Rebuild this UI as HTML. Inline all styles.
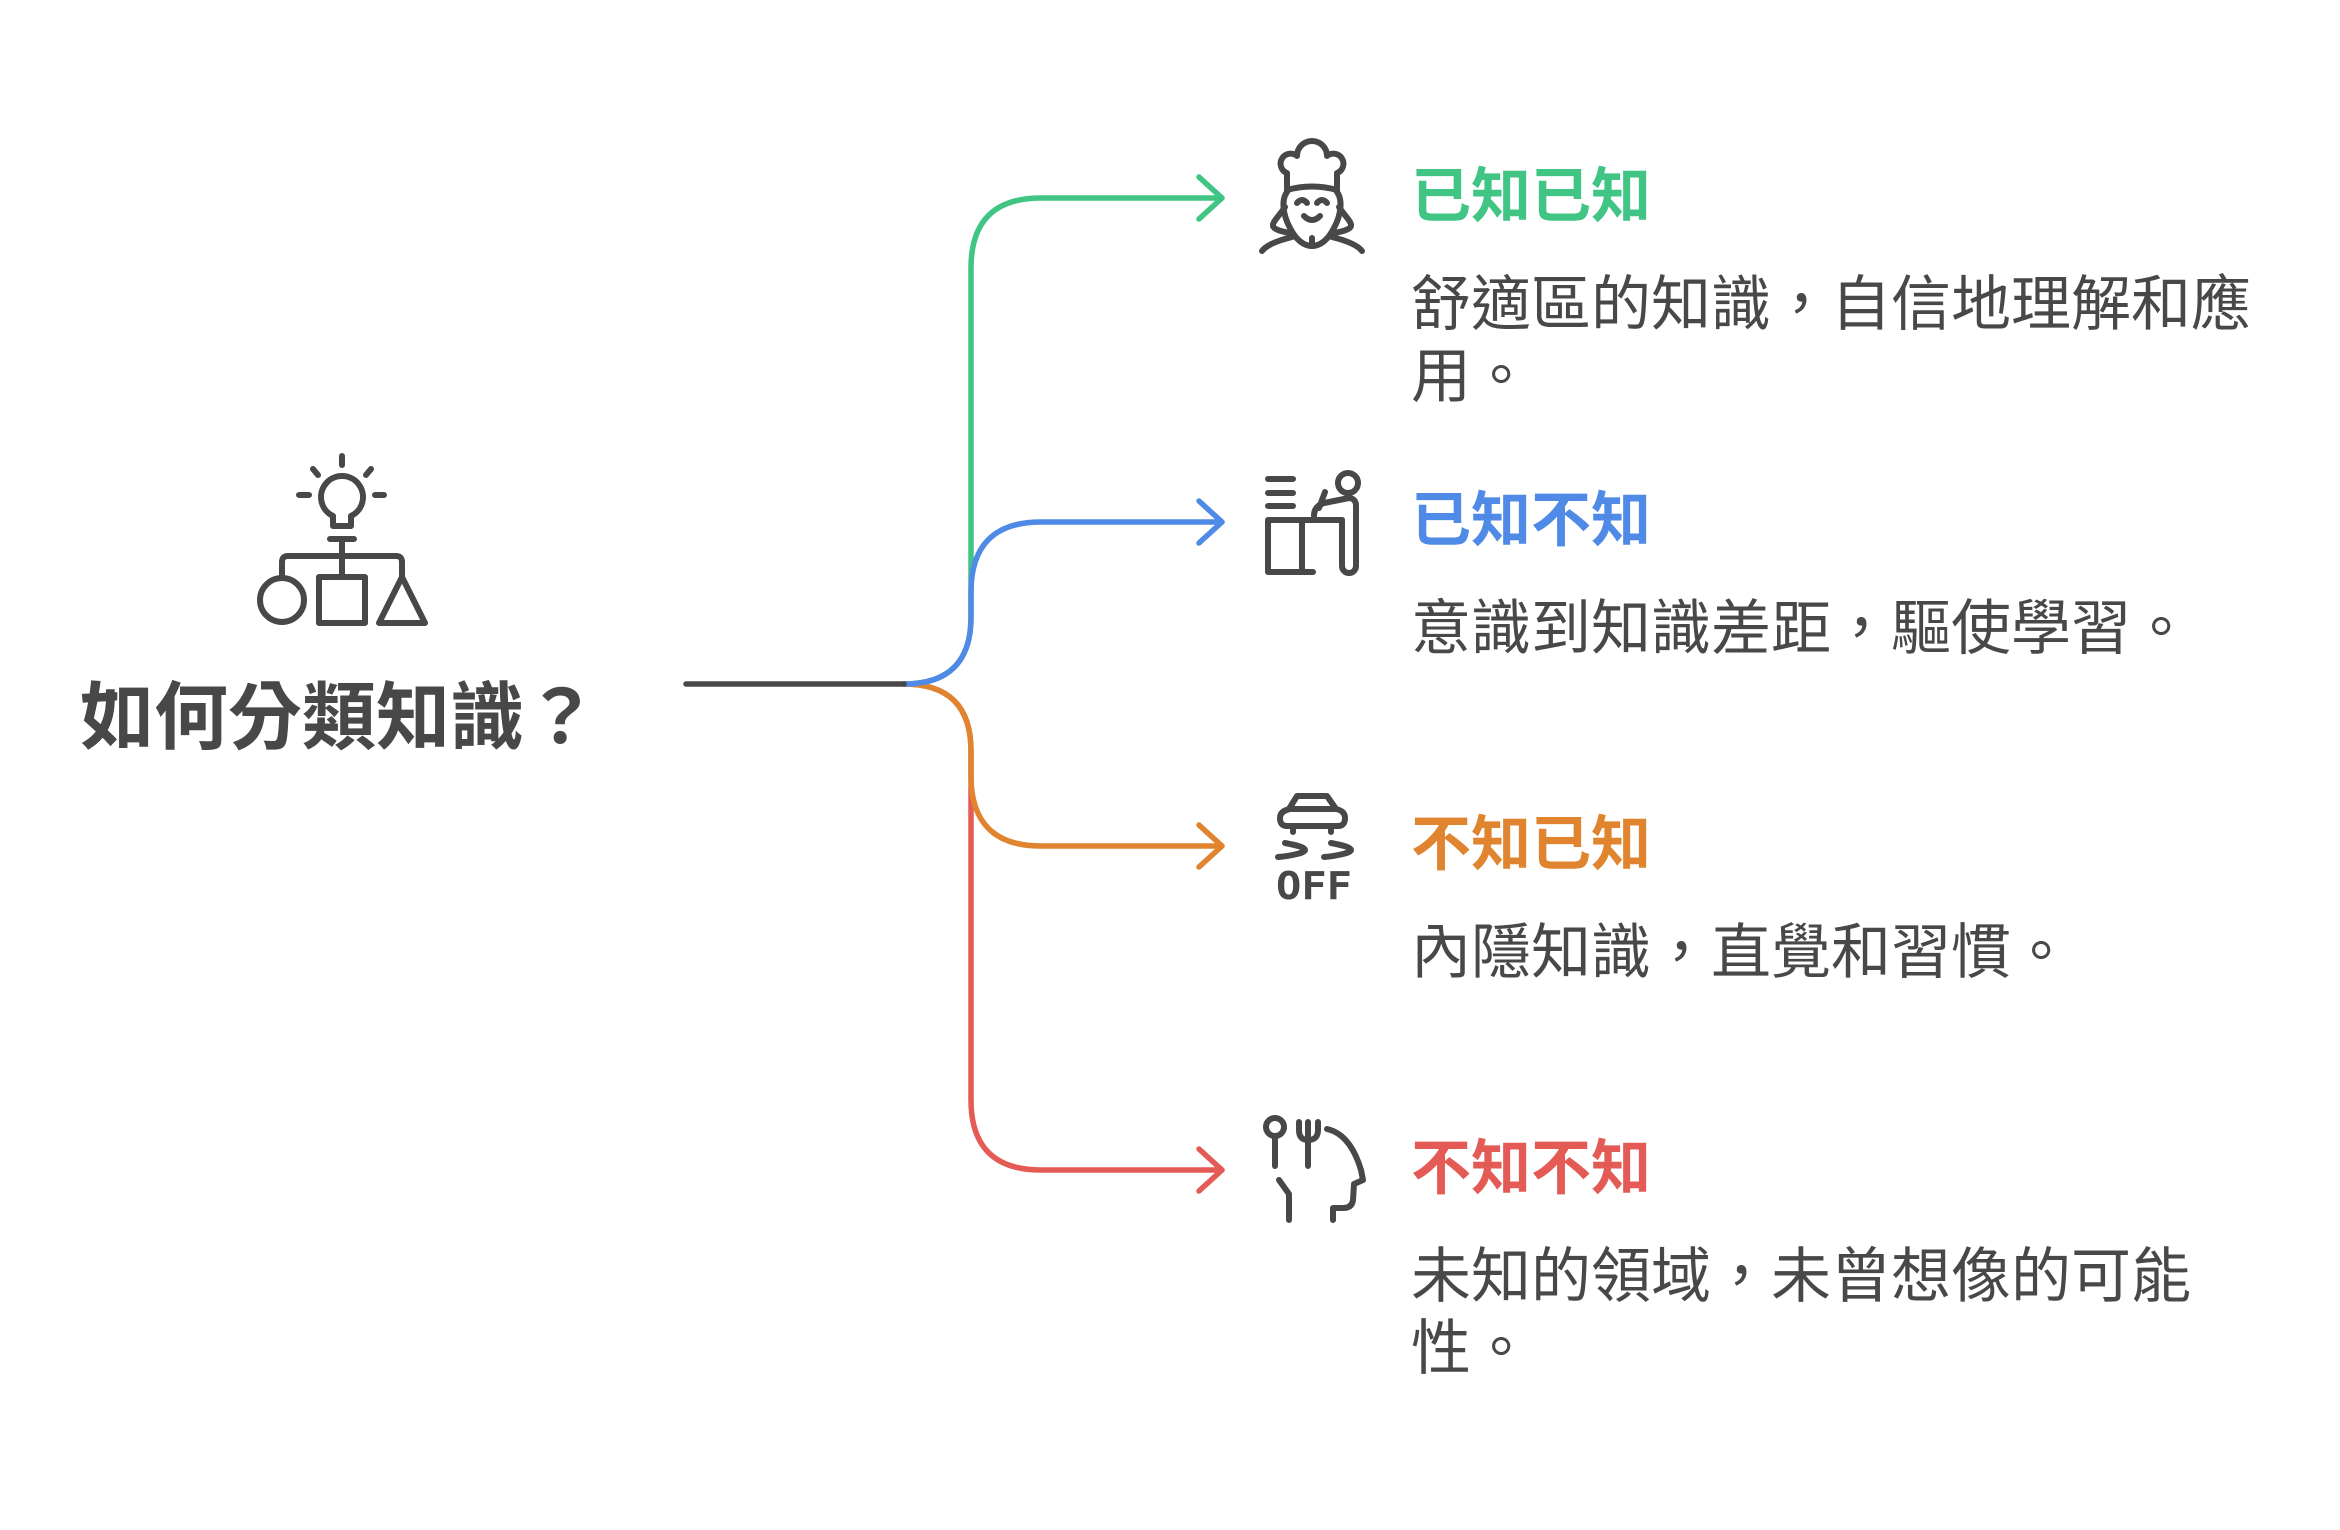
<!DOCTYPE html>
<html>
<head>
<meta charset="utf-8">
<style>
  html,body{margin:0;padding:0;background:#ffffff;}
  body{width:2340px;height:1530px;position:relative;overflow:hidden;}
  .t{position:absolute;white-space:nowrap;font-family:"Liberation Sans","Noto Sans CJK TC",sans-serif;}
  .title{left:39px;width:600px;top:673px;text-align:center;font-size:74px;line-height:90px;font-weight:700;color:#484848;}
  .h{left:1411px;font-size:60px;line-height:72px;font-weight:700;}
  .b{left:1411px;font-size:60px;line-height:72px;font-weight:400;color:#484848;}
  svg{position:absolute;left:0;top:0;}
</style>
</head>
<body>
<svg width="2340" height="1530" viewBox="0 0 2340 1530" xmlns="http://www.w3.org/2000/svg">
  <g fill="none" stroke-width="5.5" stroke-linecap="round" stroke-linejoin="round">
    <!-- connectors -->
    <path d="M904,684 Q971,684 971,617 L971,268 Q971,198 1041,198 L1222,198" stroke="#40C584"/>
    <polyline points="1199,177 1222,198 1199,219" stroke="#40C584"/>
    <path d="M904,684 Q971,684 971,751 L971,1100 Q971,1170 1041,1170 L1222,1170" stroke="#E45A55"/>
    <polyline points="1199,1149 1222,1170 1199,1191" stroke="#E45A55"/>
    <path d="M904,684 Q971,684 971,751 L971,776 Q971,846 1041,846 L1222,846" stroke="#E0842F"/>
    <polyline points="1199,825 1222,846 1199,867" stroke="#E0842F"/>
    <path d="M904,684 Q971,684 971,617 L971,592 Q971,522 1041,522 L1222,522" stroke="#4E8AE6"/>
    <polyline points="1199,501 1222,522 1199,543" stroke="#4E8AE6"/>
    <path d="M686,684 L904,684" stroke="#484848"/>
  </g>

  <g fill="none" stroke="#484848" stroke-width="6" stroke-linecap="round" stroke-linejoin="round">
    <!-- lightbulb / shapes icon -->
    <path d="M342,456 L342,465 M313,469 L318,475 M371,469 L366,475 M299,495 L309,495 M375,495 L384,495"/>
    <path d="M333,516 A21,21 0 1 1 351,516 L351,526 L333,526 Z"/>
    <path d="M330,539 L354,539 M342,539 L342,577"/>
    <path d="M282,578 L282,562 Q282,556 288,556 L396,556 Q402,556 402,562 L402,577"/>
    <circle cx="282" cy="600" r="22"/>
    <rect x="319" y="577" width="46" height="46"/>
    <path d="M402,577 L425,623 L379,623 Z"/>

    <!-- chef icon -->
    <path d="M1287,190 L1287,173 A10,10 0 1 1 1297,156 A15,15 0 0 1 1327,156 A10,10 0 1 1 1337,173 L1337,190"/>
    <path d="M1287,190 Q1312,183 1337,190"/>
    <path d="M1287,192 C1281,200 1283,215 1290,228 C1296,240 1304,246 1312,246 C1320,246 1328,240 1334,228 C1341,215 1343,200 1337,192"/>
    <path d="M1297,203 Q1302,197 1307,203 M1317,203 Q1322,197 1327,203"/>
    <path d="M1304,216 Q1312,224 1320,216"/>
    <path d="M1285,207 C1280,215 1272,222 1273,226 C1274,230 1284,232 1290,233"/>
    <path d="M1339,207 C1344,215 1352,222 1351,226 C1350,230 1340,232 1334,233"/>
    <path d="M1262,251 Q1268,243 1292,237 M1362,251 Q1356,243 1332,237"/>
    <path d="M1312,238 L1312,246"/>

    <!-- desk person icon -->
    <path d="M1268,479 L1293,479 M1268,493 L1293,493 M1268,506 L1293,506"/>
    <circle cx="1348" cy="483" r="10"/>
    <path d="M1313,572 L1268,572 L1268,520 L1342,520 M1302,520 L1302,572"/>
    <path d="M1342,520 L1342,566 A7,7 0 0 0 1356,566 L1356,505 A7,7 0 0 0 1349,498 L1324,503 Q1314,506 1314,516"/>
    <path d="M1319,508 L1325,492"/>

    <!-- car off icon -->
    <path d="M1289,809 L1297,796 L1327,796 L1336,809"/>
    <path d="M1290,809 L1336,809 Q1345,811 1345,818 Q1345,826 1338,826 L1287,826 Q1280,826 1280,818 Q1280,811 1290,809 Z"/>
    <path d="M1293,827 L1293,832 M1331,827 L1331,832"/>
    <path d="M1285,843 C1295,845 1305,847 1305,850 C1305,853 1290,856 1278,857"/>
    <path d="M1331,843 C1341,845 1351,847 1351,850 C1351,853 1336,856 1324,857"/>

    <!-- head / utensils icon -->
    <circle cx="1275" cy="1127" r="9"/>
    <path d="M1275,1136 L1275,1166"/>
    <path d="M1299,1122 L1299,1130 Q1299,1140 1308,1140 Q1318,1140 1318,1130 L1318,1122 M1308,1122 L1308,1166"/>
    <path d="M1327,1129 C1345,1133 1355,1150 1361,1170 L1363,1180 L1354,1184 L1353,1200 Q1352,1208 1343,1208 L1333,1208 L1333,1220"/>
    <path d="M1279,1180 L1289,1194 L1289,1220"/>
  </g>
  <text x="1276" y="899" font-family="DejaVu Sans Mono, Liberation Mono, monospace" font-weight="700" font-size="38" fill="#484848" textLength="76" lengthAdjust="spacingAndGlyphs">OFF</text>
</svg>

<div class="t title">如何分類知識？</div>

<div class="t h" style="top:161px;color:#40C584;">已知已知</div>
<div class="t b" style="top:269px;">舒適區的知識，自信地理解和應<br>用。</div>

<div class="t h" style="top:485px;color:#4E8AE6;">已知不知</div>
<div class="t b" style="top:593px;">意識到知識差距，驅使學習。</div>

<div class="t h" style="top:809px;color:#E0842F;">不知已知</div>
<div class="t b" style="top:917px;">內隱知識，直覺和習慣。</div>

<div class="t h" style="top:1133px;color:#E45A55;">不知不知</div>
<div class="t b" style="top:1241px;">未知的領域，未曾想像的可能<br>性。</div>
</body>
</html>
